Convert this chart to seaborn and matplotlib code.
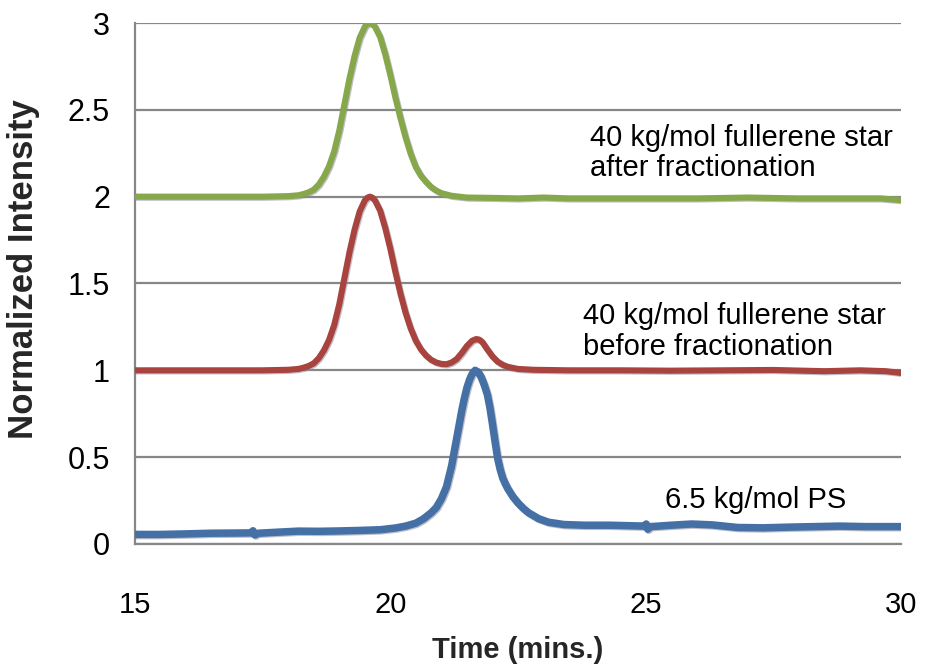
import matplotlib
matplotlib.use("Agg")
import matplotlib.pyplot as plt
import matplotlib.patheffects as pe
import seaborn as sns
import pandas as pd

# GPC traces (elution time in minutes, normalized intensity with vertical offsets)
ps_time = [15.0, 15.5, 16.0, 16.5, 17.0, 17.28, 17.31, 17.35, 17.42, 17.8, 18.2, 18.6,
           19.0, 19.4, 19.8, 20.1, 20.3, 20.5, 20.65, 20.8, 20.9, 21.0, 21.1, 21.2,
           21.25, 21.3, 21.35, 21.4, 21.45, 21.5, 21.55, 21.6, 21.66, 21.72, 21.78, 21.84,
           21.9, 21.95, 22.0, 22.05, 22.1, 22.15, 22.2, 22.25, 22.3, 22.4, 22.5, 22.6,
           22.7, 22.9, 23.1, 23.4, 23.8, 24.3, 24.7, 24.98, 25.01, 25.04, 25.1, 25.5,
           25.9, 26.3, 26.8, 27.3, 27.8, 28.3, 28.8, 29.3, 30.0]
ps_int = [0.055, 0.055, 0.058, 0.062, 0.063, 0.064, 0.076, 0.052, 0.062, 0.068, 0.074, 0.073,
          0.075, 0.078, 0.082, 0.092, 0.103, 0.120, 0.145, 0.180, 0.210, 0.260, 0.330, 0.450,
          0.530, 0.610, 0.690, 0.770, 0.840, 0.900, 0.945, 0.978, 1.000, 0.990, 0.960, 0.915,
          0.860, 0.785, 0.690, 0.590, 0.495, 0.430, 0.380, 0.347, 0.318, 0.272, 0.236, 0.206,
          0.181, 0.146, 0.125, 0.112, 0.108, 0.108, 0.105, 0.103, 0.115, 0.085, 0.100, 0.108,
          0.115, 0.110, 0.095, 0.093, 0.097, 0.100, 0.103, 0.100, 0.100]

before_time = [15.0, 16.0, 17.0, 17.5, 18.0, 18.2, 18.3, 18.4, 18.5, 18.6, 18.7, 18.8,
               18.9, 19.0, 19.1, 19.2, 19.3, 19.4, 19.5, 19.55, 19.6, 19.65, 19.7, 19.8,
               19.9, 20.0, 20.1, 20.2, 20.3, 20.4, 20.5, 20.6, 20.7, 20.8, 20.9, 21.0,
               21.1, 21.2, 21.3, 21.4, 21.5, 21.6, 21.68, 21.74, 21.8, 21.9, 22.0, 22.1,
               22.2, 22.3, 22.5, 22.8, 23.5, 24.5, 25.5, 26.5, 27.5, 28.5, 29.2, 29.7, 30.0]
before_int = [1.000, 1.000, 1.000, 1.000, 1.003, 1.008, 1.015, 1.025, 1.040, 1.070, 1.115, 1.175,
              1.260, 1.380, 1.530, 1.680, 1.810, 1.915, 1.978, 1.994, 2.000, 1.994, 1.978, 1.920,
              1.820, 1.700, 1.565, 1.440, 1.330, 1.240, 1.170, 1.120, 1.085, 1.060, 1.045, 1.037,
              1.035, 1.045, 1.065, 1.100, 1.140, 1.170, 1.180, 1.177, 1.163, 1.120, 1.080, 1.050,
              1.032, 1.020, 1.008, 1.003, 1.000, 1.000, 0.998, 1.000, 1.002, 0.995, 1.000, 0.995, 0.985]

after_time = [15.0, 16.0, 17.0, 17.5, 18.0, 18.2, 18.3, 18.4, 18.5, 18.6, 18.7, 18.8,
              18.9, 19.0, 19.1, 19.2, 19.3, 19.4, 19.5, 19.55, 19.6, 19.65, 19.7, 19.8,
              19.9, 20.0, 20.1, 20.2, 20.3, 20.4, 20.5, 20.6, 20.7, 20.8, 20.9, 21.0,
              21.2, 21.5, 22.0, 22.5, 23.0, 23.5, 24.0, 25.0, 26.0, 27.0, 28.0, 29.0,
              29.6, 30.0]
after_int = [2.000, 2.000, 2.000, 2.000, 2.003, 2.008, 2.015, 2.025, 2.040, 2.070, 2.115, 2.175,
             2.260, 2.380, 2.530, 2.680, 2.810, 2.915, 2.978, 2.994, 3.000, 2.994, 2.978, 2.920,
             2.820, 2.700, 2.570, 2.450, 2.340, 2.245, 2.170, 2.120, 2.085, 2.055, 2.035, 2.020,
             2.005, 1.995, 1.993, 1.990, 1.995, 1.990, 1.990, 1.990, 1.990, 1.995, 1.990, 1.990,
             1.990, 1.980]

trace_labels = ["6.5 kg/mol PS",
                "40 kg/mol fullerene star\nbefore fractionation",
                "40 kg/mol fullerene star\nafter fractionation"]
trace_colors = ["#4470A6", "#A8433D", "#87A74B"]
label_pos = [(25.38, 0.254), (23.77, 1.223), (23.91, 2.253)]

sns.set_style("white")
plt.rcParams["font.family"] = ["Liberation Sans", "DejaVu Sans"]

fig = plt.figure(figsize=(9.27, 6.65), dpi=100)
ax = fig.add_axes([0.1456, 0.182, 0.8264, 0.7834])

shadow = [pe.SimpleLineShadow(offset=(0.8, -0.8), shadow_color="#8a8aa0", alpha=0.55),
          pe.Normal()]

series = [(ps_time, ps_int), (before_time, before_int), (after_time, after_int)]
widths = [5.4, 4.4, 4.4]
for (t, v), col, lw in zip(series, trace_colors, widths):
    df = pd.DataFrame({"time": t, "intensity": v})
    sns.lineplot(data=df, x="time", y="intensity", ax=ax, color=col, linewidth=lw,
                 estimator=None, sort=False, path_effects=shadow, zorder=3)

for txt, (tx, ty) in zip(trace_labels, label_pos):
    ax.text(tx, ty, txt, ha="left", va="center", fontsize=21, linespacing=1.1,
            color="black", zorder=4)

ax.set_xlim(15, 30)
ax.set_ylim(0, 3)
ax.set_xticks([15, 20, 25, 30])
ax.set_yticks([0, 0.5, 1, 1.5, 2, 2.5, 3])
ax.set_yticklabels(["0", "0.5", "1", "1.5", "2", "2.5", "3"])

ax.yaxis.grid(True, color="#878787", linewidth=1.6)
ax.xaxis.grid(False)
ax.set_axisbelow(True)

for side in ["top", "right"]:
    ax.spines[side].set_visible(False)
for side in ["left", "bottom"]:
    ax.spines[side].set_color("#878787")
    ax.spines[side].set_linewidth(1.6)

ax.tick_params(axis="both", direction="out", length=6, width=1.4, color="#878787",
               labelcolor="black")
ax.tick_params(axis="y", labelsize=22, pad=12)
ax.tick_params(axis="x", labelsize=21, pad=28)

ax.set_xlabel("Time (mins.)", fontsize=21, fontweight="bold", labelpad=12)
ax.set_ylabel("Normalized Intensity", fontsize=25, fontweight="bold")
ax.yaxis.set_label_coords(-0.124, 0.528)

fig.savefig("out.png", dpi=100)
